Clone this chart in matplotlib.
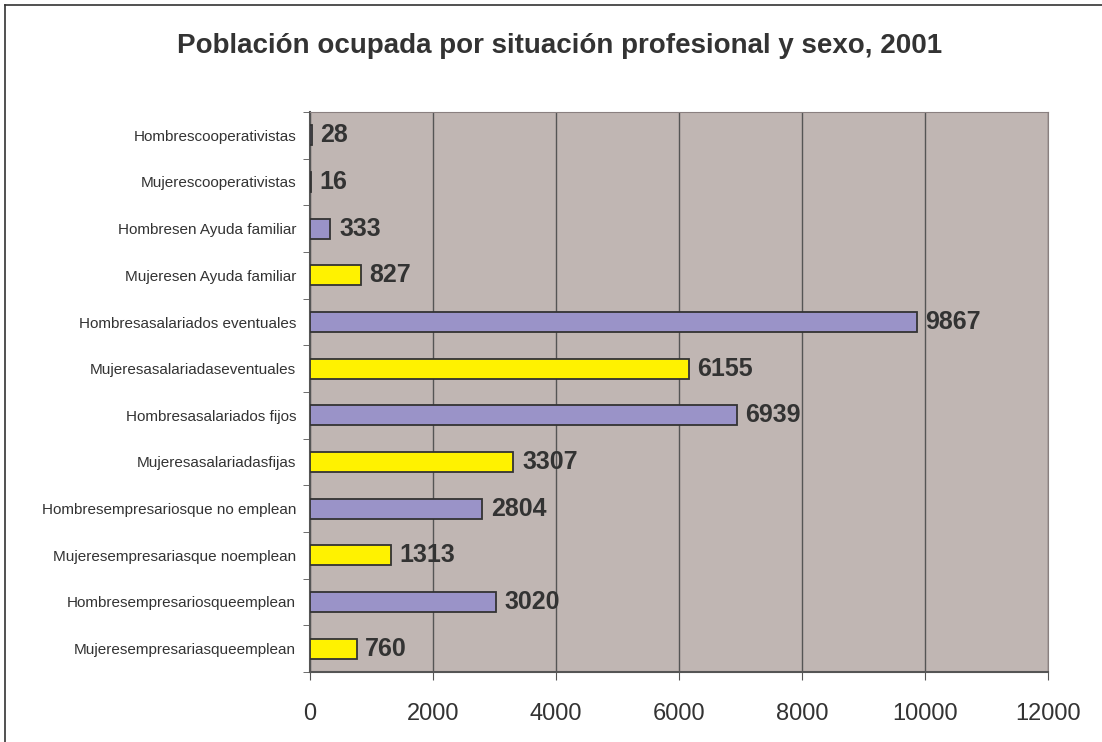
import matplotlib
matplotlib.use("Agg")
import matplotlib.pyplot as plt
from matplotlib.lines import Line2D

categories = [
    "Mujeresempresariasqueemplean",
    "Hombresempresariosqueemplean",
    "Mujeresempresariasque noemplean",
    "Hombresempresariosque no emplean",
    "Mujeresasalariadasfijas",
    "Hombresasalariados fijos",
    "Mujeresasalariadaseventuales",
    "Hombresasalariados eventuales",
    "Mujeresen Ayuda familiar",
    "Hombresen Ayuda familiar",
    "Mujerescooperativistas",
    "Hombrescooperativistas",
]
values = [760, 3020, 1313, 2804, 3307, 6939, 6155, 9867, 827, 333, 16, 28]
xticks = [0, 2000, 4000, 6000, 8000, 10000, 12000]

plt.rcParams['font.family'] = ['Liberation Sans', 'DejaVu Sans']

fig = plt.figure(figsize=(11.02, 7.42), dpi=100)
ax = fig.add_axes([310/1102, 1-672/742, 738/1102, 560/742])

colors = ["#FFF200" if c.startswith("Mujer") else "#9A93C8" for c in categories]
ypos = list(range(len(categories)))
ax.barh(ypos, values, height=0.43, color=colors, edgecolor="#333333", linewidth=1.3, zorder=3)

for y, v in zip(ypos, values):
    ax.text(v + 140, y, str(v), va="center", ha="left", fontsize=18, fontweight="bold",
            color="#333333", zorder=4)

ax.set_facecolor("#C0B6B3")
ax.set_xlim(0, 12000)
ax.set_ylim(-0.5, len(categories) - 0.5)
ax.set_xticks(xticks)
ax.set_xticklabels([str(t) for t in xticks], fontsize=17, color="#333333")
ax.set_yticks(ypos)
ax.set_yticklabels(categories, fontsize=11, color="#333333")
ax.set_yticks([y + 0.5 for y in ypos[:-1]] + [-0.5, len(categories) - 0.5], minor=True)
ax.tick_params(axis="y", which="major", length=0, pad=10)
ax.tick_params(axis="y", which="minor", length=5, color="#555555")
ax.tick_params(axis="x", length=6, color="#555555", pad=16)
ax.xaxis.grid(True, color="#555555", linewidth=1)
ax.set_axisbelow(True)
for s in ["top", "right"]:
    ax.spines[s].set_color("#8a8080")
for s in ["left", "bottom"]:
    ax.spines[s].set_color("#555555")
    ax.spines[s].set_linewidth(1.5)

fig.text(560/1102, 1-46/742, "Población ocupada por situación profesional y sexo, 2001",
         ha="center", va="center", fontsize=20, fontweight="bold", color="#333333")

# outer chart frame (left and top edges visible)
fig.add_artist(Line2D([5/1102, 5/1102], [0, 1-5/742], transform=fig.transFigure, color="#333333", linewidth=1.2))
fig.add_artist(Line2D([5/1102, 1], [1-5/742, 1-5/742], transform=fig.transFigure, color="#333333", linewidth=1.2))

fig.savefig("out.png", dpi=100)
